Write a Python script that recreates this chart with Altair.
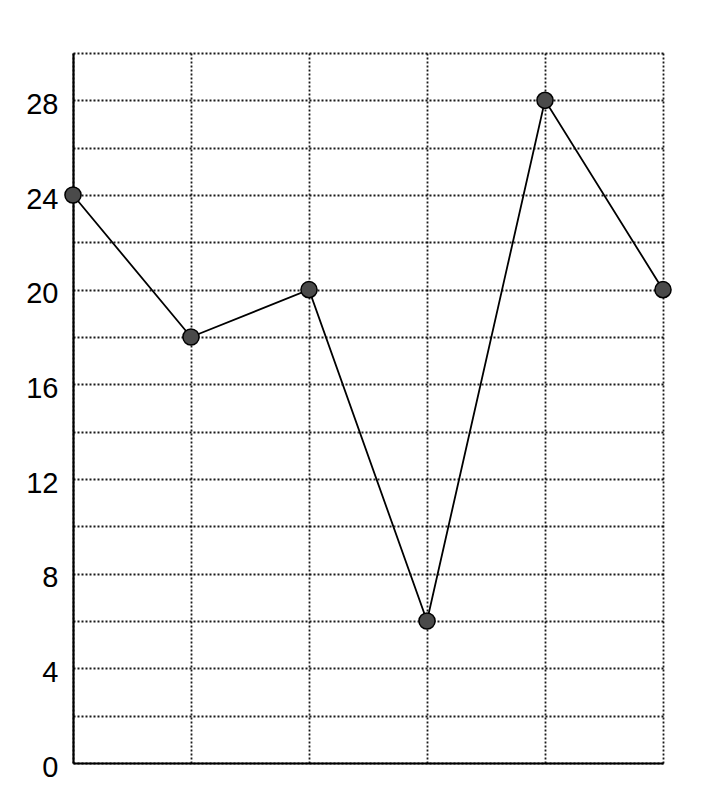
import altair as alt
import pandas as pd

xs = [0, 1, 2, 3, 4, 5]
values = [24, 18, 20, 6, 28, 20]
y_ticks = list(range(0, 32, 2))

df = pd.DataFrame({"x": xs, "y": values})

grid_style = dict(gridColor="black", gridDash=[2, 2], gridWidth=1.8, gridOpacity=0.9)

xenc = alt.X("x:Q", scale=alt.Scale(domain=[0, 5], nice=False, zero=False),
             axis=alt.Axis(values=xs, grid=True, labels=False, ticks=False, title=None,
                           domainColor="black", domainWidth=2.2, **grid_style))
yenc = alt.Y("y:Q", scale=alt.Scale(domain=[0, 30], nice=False),
             axis=alt.Axis(values=y_ticks, grid=True, ticks=False, title=None,
                           labelExpr="datum.value % 4 == 0 ? datum.label : ''",
                           labelFont="Liberation Sans", labelFontSize=29, labelColor="black",
                           labelPadding=15, labelOffset=4,
                           domainColor="black", domainWidth=2.2, **grid_style))

line = alt.Chart(df).mark_line(color="black", strokeWidth=1.8).encode(x=xenc, y=yenc)
pts = alt.Chart(df).mark_point(filled=True, size=260, color="#4a4a4a", stroke="black",
                               strokeWidth=1.5, opacity=1).encode(x="x:Q", y="y:Q")

chart = (line + pts).properties(
    width=590, height=710,
    autosize=alt.AutoSizeParams(type="none"),
    padding={"left": 65, "top": 45, "right": 44, "bottom": 22},
).configure_view(stroke=None)

chart.save("out.html", embed_options={"renderer": "svg", "actions": False})
